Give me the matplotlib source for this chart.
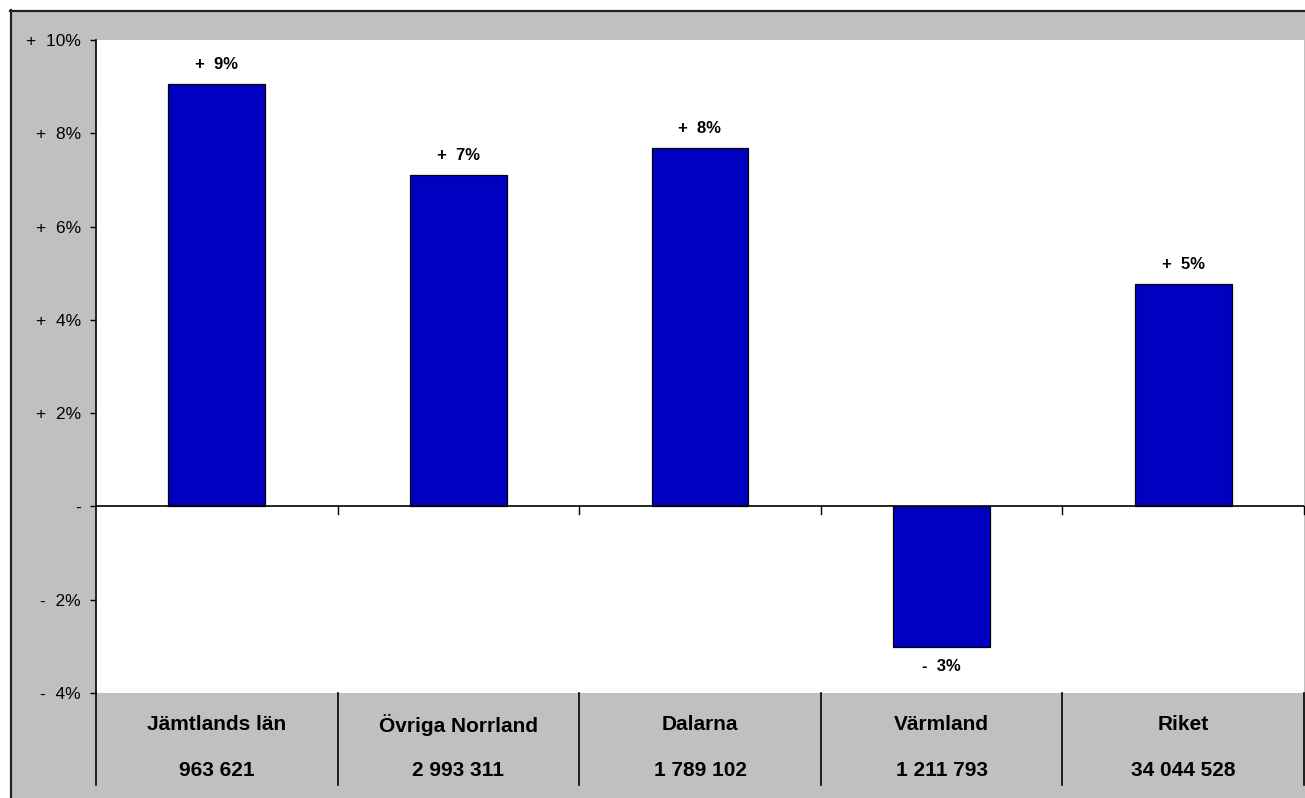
import matplotlib
matplotlib.use("Agg")
import matplotlib.pyplot as plt
from matplotlib.patches import Rectangle
from matplotlib.lines import Line2D
from matplotlib.ticker import FuncFormatter, FixedLocator
import matplotlib.transforms as mtransforms

plt.rcParams['font.family'] = ['Liberation Sans', 'DejaVu Sans']

categories = ["Jämtlands län", "Övriga Norrland", "Dalarna", "Värmland", "Riket"]
totals = ["963 621", "2 993 311", "1 789 102", "1 211 793", "34 044 528"]
values = [9.06, 7.11, 7.68, -3.02, 4.76]
yticks = [-4, -2, 0, 2, 4, 6, 8, 10]

W, H = 1305, 798
fig = plt.figure(figsize=(W / 100, H / 100), dpi=100)
fig.patch.set_facecolor("white")

# grey chart area with dark top/left border
grey = "#C0C0C0"
fig.patches.append(Rectangle((10 / W, 0), 1 - 10 / W, (H - 10) / H,
                             transform=fig.transFigure, facecolor=grey,
                             edgecolor="none", zorder=-5))
fig.lines.append(Line2D([10 / W, 1], [(H - 10.5) / H, (H - 10.5) / H],
                        transform=fig.transFigure, color="#202020", lw=1.6,
                        zorder=-4))
fig.lines.append(Line2D([10.5 / W, 10.5 / W], [0, (H - 10) / H],
                        transform=fig.transFigure, color="#202020", lw=1.6,
                        zorder=-4))

x0, x1, ytop, ybot = 96, 1304, 40, 693
ax = fig.add_axes([x0 / W, (H - ybot) / H, (x1 - x0) / W, (ybot - ytop) / H])
ax.set_zorder(2)
ax.set_facecolor("white")

n = len(categories)
pos = [i + 0.5 for i in range(n)]
ax.bar(pos, values, width=0.40, color="#0000C0", edgecolor="black",
       linewidth=0.9, zorder=3)

ax.set_xlim(0, n)
ax.set_ylim(-4, 10)

for s in ["top", "right", "bottom"]:
    ax.spines[s].set_visible(False)
ax.spines["left"].set_color("black")
ax.spines["left"].set_linewidth(1.2)

def fmt(v, p):
    if abs(v) < 1e-9:
        return "-"
    return ("+  " if v > 0 else "-  ") + f"{abs(v):.0f}%"

ax.yaxis.set_major_locator(FixedLocator(yticks))
ax.yaxis.set_major_formatter(FuncFormatter(fmt))
ax.tick_params(axis="y", direction="out", length=4.5, width=1.0, pad=6.5,
               labelsize=12.5, colors="black")
ax.set_xticks([])

# zero line with small ticks at category boundaries
ax.axhline(0, color="black", lw=1.2, zorder=4)
for b in range(1, n + 1):
    ax.plot([b, b], [0, -0.17], color="black", lw=1.0, zorder=4, clip_on=False)

# value labels
for xp, v in zip(pos, values):
    lab = ("+  " if v > 0 else "-  ") + f"{abs(v):.0f}%"
    if v >= 0:
        ax.annotate(lab, (xp, v), xytext=(0, 12), textcoords="offset pixels",
                    ha="center", va="bottom", fontsize=12, fontweight="bold")
    else:
        ax.annotate(lab, (xp, v), xytext=(0, -12), textcoords="offset pixels",
                    ha="center", va="top", fontsize=12, fontweight="bold")

# data table below the axis
trans = mtransforms.blended_transform_factory(ax.transData, ax.transAxes)
plot_h = ybot - ytop
def ay(ypix):
    return (ybot - ypix) / plot_h

ax.plot([0, 0], [0, ay(785)], transform=trans, color="black", lw=1.2,
        clip_on=False)
for b in range(1, n + 1):
    ax.plot([b, b], [0, ay(785)], transform=trans, color="black", lw=1.2,
            clip_on=False)
for xp, c, t in zip(pos, categories, totals):
    ax.text(xp, ay(725), c, transform=trans, ha="center", va="center",
            fontsize=15, fontweight="bold")
    ax.text(xp, ay(771), t, transform=trans, ha="center", va="center",
            fontsize=15, fontweight="bold")

fig.savefig("out.png", dpi=100)
